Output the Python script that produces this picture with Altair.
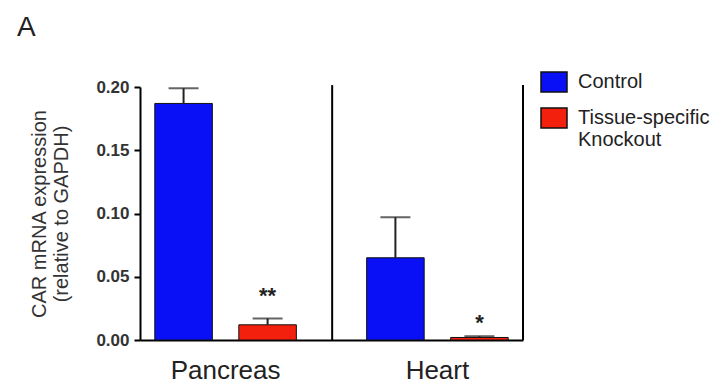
import altair as alt
import pandas as pd

# ---- data ----
tissues = ["Pancreas", "Pancreas", "Heart", "Heart"]
groups = ["Control", "Tissue-specific Knockout", "Control", "Tissue-specific Knockout"]
means = [0.187, 0.012, 0.065, 0.002]
errors = [0.012, 0.005, 0.032, 0.001]
star_text = ["", "**", "", "*"]
star_height = [0.0, 0.037, 0.0, 0.016]

tissue_order = ["Pancreas", "Heart"]
group_order = ["Control", "Tissue-specific Knockout"]
group_colors = ["#0a10f5", "#f4200e"]
y_ticks = [0.0, 0.05, 0.10, 0.15, 0.20]
y_title = ["CAR mRNA expression", "(relative to GAPDH)"]

df = pd.DataFrame({
    "tissue": tissues,
    "group": groups,
    "mean": means,
    "err": errors,
    "star": star_text,
    "star_y": star_height,
})
df["upper"] = df["mean"] + df["err"]
stars = df[df["star"] != ""]

divider = pd.DataFrame({"tissue": ["Pancreas"]})
right_edge = pd.DataFrame({"tissue": ["Heart"]})

FONT = "Liberation Sans"

x_axis = alt.Axis(title=None, labelAngle=0, labelFontSize=26, labelFont=FONT,
                  labelColor="#222", ticks=False, domainColor="black",
                  domainWidth=2, labelPadding=17)
x_scale = alt.Scale(paddingInner=0.192, paddingOuter=0)
y_axis = alt.Axis(values=y_ticks, format=".2f", title=y_title, titleFont=FONT,
                  titleFontSize=20, titleFontWeight="normal", titleColor="#333",
                  titleLineHeight=22, titlePadding=24,
                  labelFont=FONT, labelFontSize=17, labelFontWeight="bold",
                  labelColor="#333", domainColor="black", domainWidth=2,
                  tickColor="black", tickWidth=2, tickSize=6, grid=False,
                  labelPadding=5)
y_scale = alt.Scale(domain=[0, 0.2], nice=False)


def X(band=None):
    if band is None:
        return alt.X("tissue:N", sort=tissue_order, scale=x_scale, axis=x_axis)
    return alt.X("tissue:N", sort=tissue_order, scale=x_scale, axis=x_axis,
                 bandPosition=band)


def Y(field):
    return alt.Y(f"{field}:Q", scale=y_scale, axis=y_axis)


xoff = alt.XOffset("group:N", sort=group_order,
                   scale=alt.Scale(paddingInner=0.315, paddingOuter=0.176))

bars = alt.Chart(df).mark_bar(stroke="#111", strokeWidth=1).encode(
    x=X(), xOffset=xoff, y=Y("mean"),
    color=alt.Color("group:N", sort=group_order,
                    scale=alt.Scale(domain=group_order, range=group_colors),
                    legend=alt.Legend(
                        title=None, orient="none", legendX=400, legendY=-19,
                        labelFont=FONT, labelFontSize=20, labelColor="#222",
                        labelLimit=300, labelOffset=10,
                        symbolType="M-1,-0.77H1V0.77H-1Z", symbolSize=676,
                        symbolStrokeColor="#111", symbolStrokeWidth=1.5,
                        symbolOpacity=1, rowPadding=8,
                        labelExpr="datum.label == 'Tissue-specific Knockout' ? ['Tissue-specific', 'Knockout'] : datum.label",
                    )),
)

err_lines = alt.Chart(df).mark_rule(color="#222", strokeWidth=2).encode(
    x=X(), xOffset=xoff, y=Y("mean"), y2="upper:Q",
)

caps = alt.Chart(df).mark_tick(color="#222", thickness=2, size=30).encode(
    x=X(), xOffset=xoff, y=Y("upper"),
)

star_marks = alt.Chart(stars).mark_text(
    font=FONT, fontSize=22, fontWeight="bold", color="#222", dy=3,
).encode(
    x=X(), xOffset=xoff, y=Y("star_y"), text="star:N",
)

div_rule = alt.Chart(divider).mark_rule(color="black", strokeWidth=2, xOffset=21).encode(
    x=X(1.0), y=alt.datum(0), y2=alt.datum(0.2015),
)
right_rule = alt.Chart(right_edge).mark_rule(color="black", strokeWidth=2).encode(
    x=X(1.0), y=alt.datum(0), y2=alt.datum(0.2015),
)

chart = alt.layer(bars, err_lines, caps, star_marks, div_rule, right_rule).properties(
    width=383, height=253,
    autosize=alt.AutoSizeParams(type="none"),
    padding={"left": 132, "top": 79, "right": 191, "bottom": 43},
    title=alt.TitleParams("A", anchor="start", frame="group", fontSize=28,
                          fontWeight="normal", font=FONT, color="#222",
                          dx=-123, offset=26),
    background="white",
).configure_view(stroke=None)

chart.save("out.html", embed_options={"renderer": "svg", "actions": False})
